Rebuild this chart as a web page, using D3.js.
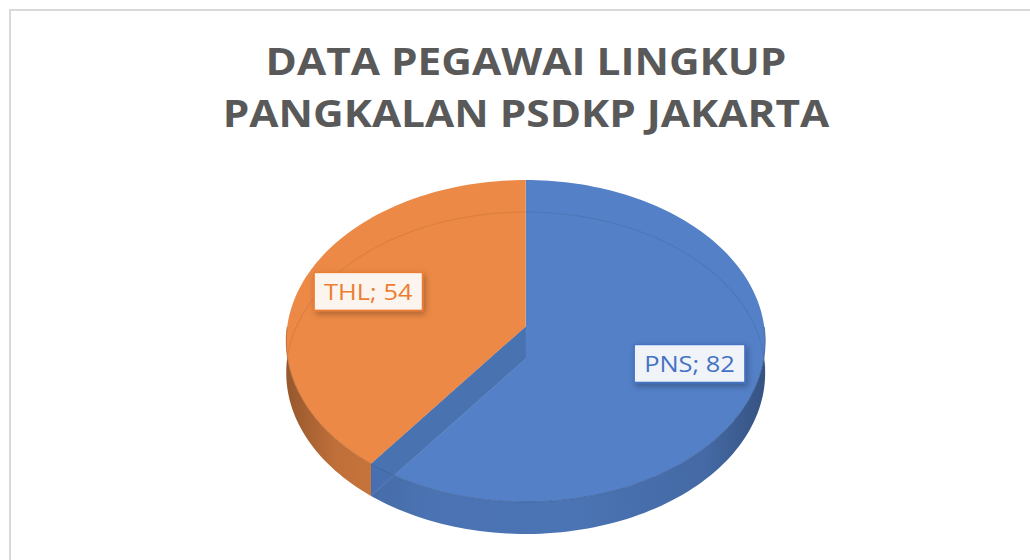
<!DOCTYPE html>
<html>
<head>
<meta charset="utf-8">
<script src="https://cdn.jsdelivr.net/npm/d3@7"></script>
<style>
  html, body { margin: 0; padding: 0; background: #ffffff; }
  svg { display: block; }
</style>
</head>
<body>
<svg id="chart" width="1030" height="560"></svg>
<script>
// ---- data ----
const titleLines = ["DATA PEGAWAI LINGKUP", "PANGKALAN PSDKP JAKARTA"];
const categories = ["PNS", "THL"];
const values = [82, 54];
const topColors = ["#5380C7", "#EC8946"];
const textColors = ["#4472C4", "#ED7D31"];

// ---- layout ----
const W = 1030, H = 560;
const cx = 525.7, cy = 326.7;   // pie centre (top face)
const R = 238.5, Ry = 159.7;    // radii
const k = 0.0889;               // perspective factor
const depth = 32;               // thickness
const stretch = 1.13;           // horizontal text stretch

const svg = d3.select("#chart");
const defs = svg.append("defs");

// frame (left + top border)
svg.append("path")
  .attr("d", d3.line()([[10, H], [10, 10], [W, 10]]))
  .attr("fill", "none").attr("stroke", "#d9d9d9").attr("stroke-width", 2);

// title
const title = svg.append("g").attr("class", "title");
const titleY = d3.scaleOrdinal().domain(titleLines).range([75, 126.7]);
titleLines.forEach(t => {
  const txt = title.append("text")
    .attr("x", 526).attr("y", titleY(t))
    .attr("text-anchor", "middle")
    .attr("font-family", "'Open Sans', sans-serif")
    .attr("font-weight", 700)
    .attr("font-size", 37.5)
    .attr("fill", "#595959")
    .text(t);
  const w = txt.node().getComputedTextLength();
  txt.attr("textLength", w * stretch).attr("lengthAdjust", "spacingAndGlyphs");
});

// projection of a point on the disc (angle from 12 o'clock, clockwise)
function P(theta, r = 1, z = 0) {
  const u = r * Math.sin(theta), v = -r * Math.cos(theta);
  const s = 1 / (1 - k * v);
  return [cx + R * u * s, cy + Ry * v * s + z];
}
function arcPts(a0, a1, z = 0, n = 120) {
  const pts = [];
  const steps = Math.max(2, Math.ceil(n * Math.abs(a1 - a0) / Math.PI));
  for (let i = 0; i <= steps; i++) pts.push(P(a0 + (a1 - a0) * i / steps, 1, z));
  return pts;
}
const line = d3.line();

const pie = d3.pie().sort(null).startAngle(0).endAngle(2 * Math.PI);
const arcs = pie(values);

// side gradients
arcs.forEach((d, i) => {
  const c = d3.color(topColors[i]);
  const g = defs.append("linearGradient")
    .attr("id", "side" + i)
    .attr("gradientUnits", "userSpaceOnUse")
    .attr("x1", cx - R).attr("x2", cx + R).attr("y1", 0).attr("y2", 0);
  [[0, 1.25], [0.1, 0.6], [0.3, 0.3], [0.6, 0.28], [0.88, 0.55], [1, 1.2]].forEach(([o, dk]) => {
    g.append("stop").attr("offset", o).attr("stop-color", c.darker(dk).formatHex());
  });
});

// label shadow
const f = defs.append("filter").attr("id", "shadow")
  .attr("x", "-30%").attr("y", "-40%").attr("width", "160%").attr("height", "200%");
f.append("feDropShadow").attr("dx", 2).attr("dy", 3).attr("stdDeviation", 3)
  .attr("flood-color", "#000").attr("flood-opacity", 0.3);

const pieG = svg.append("g").attr("class", "pie");

// outer sides (front half only)
arcs.forEach((d, i) => {
  const a0 = Math.max(d.startAngle, Math.PI / 2);
  const a1 = Math.min(d.endAngle, 3 * Math.PI / 2);
  if (a0 >= a1) return;
  const pts = arcPts(a0, a1, 0).concat(arcPts(a1, a0, depth));
  pieG.append("path")
    .attr("d", line(pts) + "Z")
    .attr("fill", `url(#side${i})`);
});

// top faces
arcs.forEach((d, i) => {
  const pts = [[cx, cy]].concat(arcPts(d.startAngle, d.endAngle, 0));
  pieG.append("path")
    .attr("d", line(pts) + "Z")
    .attr("fill", topColors[i]);
});

// visible cut face of the first slice (rendered see-through)
{
  const a = arcs[0].endAngle;
  const q = [[cx, cy], P(a, 1, 0), P(a, 1, depth), [cx, cy + depth]];
  pieG.append("path")
    .attr("d", line(q) + "Z")
    .attr("fill", d3.color(topColors[0]).darker(0.35).formatHex())
    .attr("opacity", 0.95);
  pieG.append("path")
    .attr("d", line([[cx, cy + depth], P(a, 1, depth)]))
    .attr("stroke", "#ffffff").attr("stroke-opacity", 0.12).attr("stroke-width", 1);
}

// faint back edge of bottom face seen through the top
pieG.append("path")
  .attr("d", line(arcPts(1.48 * Math.PI, 2.52 * Math.PI, depth)))
  .attr("fill", "none").attr("stroke", "#000").attr("stroke-opacity", 0.07).attr("stroke-width", 1.2);

// front rim line of the top face
arcs.forEach((d, i) => {
  const a0 = Math.max(d.startAngle, Math.PI / 2);
  const a1 = Math.min(d.endAngle, 3 * Math.PI / 2);
  if (a0 >= a1) return;
  pieG.append("path")
    .attr("d", line(arcPts(a0, a1, 0)))
    .attr("fill", "none")
    .attr("stroke", d3.color(topColors[i]).darker(0.8).formatHex())
    .attr("stroke-width", 1).attr("stroke-opacity", 0.7);
});

// data labels
const labelG = svg.append("g").attr("class", "labels");
arcs.forEach((d, i) => {
  const mid = (d.startAngle + d.endAngle) / 2;
  const [x, y] = P(mid, 0.71);
  const g = labelG.append("g");
  const box = g.append("rect");
  const txt = g.append("text")
    .attr("x", x).attr("y", y + 9)
    .attr("text-anchor", "middle")
    .attr("font-family", "'Open Sans', sans-serif")
    .attr("font-size", 22.5)
    .attr("fill", textColors[i])
    .text(`${categories[i]}; ${values[i]}`);
  const w = txt.node().getComputedTextLength() * stretch;
  txt.attr("textLength", w).attr("lengthAdjust", "spacingAndGlyphs");
  const bw = w + 20, bh = 38;
  box.attr("x", x - bw / 2).attr("y", y - bh / 2)
    .attr("width", bw).attr("height", bh)
    .attr("fill", "#ffffff").attr("fill-opacity", 0.9)
    .attr("stroke", textColors[i]).attr("stroke-width", 1.5)
    .attr("filter", "url(#shadow)");
});
</script>
</body>
</html>
